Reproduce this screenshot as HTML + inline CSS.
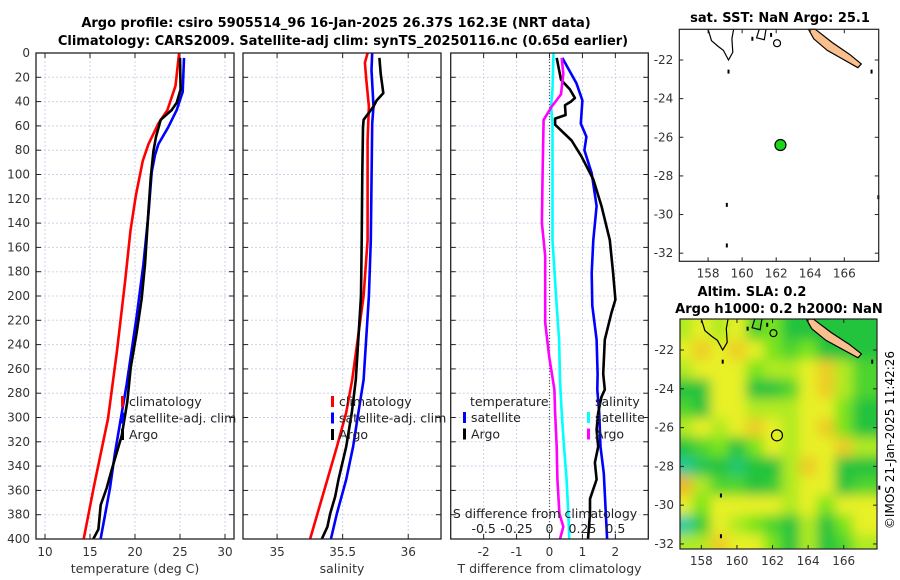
<!DOCTYPE html>
<html><head><meta charset="utf-8"><style>
body{margin:0;background:#fff}
svg{display:block;font-family:"DejaVu Sans","Liberation Sans",sans-serif}
</style></head><body>
<svg id="fig" width="900" height="580" viewBox="0 0 900 580" xmlns="http://www.w3.org/2000/svg">
<defs>
<filter id="blur" x="-5%" y="-5%" width="110%" height="110%"><feGaussianBlur stdDeviation="6"/></filter>
<clipPath id="mapclip"><rect x="680" y="319" width="197" height="230"/></clipPath>
</defs>
<text x="336" y="27" text-anchor="middle" font-size="13" font-weight="bold">Argo profile: csiro 5905514_96 16-Jan-2025 26.37S 162.3E (NRT data)</text>
<text x="343" y="45" text-anchor="middle" font-size="13" font-weight="bold">Climatology: CARS2009. Satellite-adj clim: synTS_20250116.nc (0.65d earlier)</text>
<text x="780" y="22" text-anchor="middle" font-size="13" font-weight="bold">sat. SST: NaN Argo: 25.1</text>
<text x="752" y="296" text-anchor="middle" font-size="13" font-weight="bold">Altim. SLA: 0.2</text>
<text x="779" y="313" text-anchor="middle" font-size="13" font-weight="bold">Argo h1000: 0.2 h2000: NaN</text>
<text transform="translate(894,440) rotate(-90)" text-anchor="middle" font-size="12">©IMOS 21-Jan-2025 11:42:26</text>
<g id="root"></g>
</svg>
<script>
// ---- data ----
const depthTicks=[0,20,40,60,80,100,120,140,160,180,200,220,240,260,280,300,320,340,360,380,400];
const tempTicks=[10,15,20,25,30];
const salTicks=[35,35.5,36];
const dtTicks=[-2,-1,0,1,2];
const dsTicks=[-0.5,-0.25,0,0.25,0.5];
const dsTickLabels=["-0.5","-0.25","0","0.25","0.5"];
const climTdepth=[0,27,47,58,75,89,117,146,188,245,301,358,400];
const climT=[24.9,24.5,23.6,22.6,21.5,20.85,20.1,19.5,18.9,18.0,17.0,15.4,14.3];
const satTdepth=[4,32,47,61,75,84,98,132,174,216,273,329,358,400];
const satT=[25.45,25.3,24.63,23.7,22.6,22.22,21.85,21.5,20.93,20.2,19.07,17.78,17.22,16.18];
const argoTdepth=[4,30,41,47,55,69,81,103,132,174,202,230,259,287,315,343,358,372,392,400];
const argoT=[25.0,25.07,24.63,24.07,22.85,22.33,22.04,21.74,21.48,21.11,20.74,20.19,19.52,19.15,18.52,17.41,16.85,16.19,15.93,15.37];
const climSdepth=[0,8,22,44,72,154,200,269,296,324,351,379,400];
const climS=[35.69,35.67,35.68,35.70,35.69,35.69,35.66,35.573,35.527,35.456,35.384,35.308,35.252];
const satSdepth=[0,14,44,58,154,200,269,296,324,351,379,400];
const satS=[35.725,35.72,35.735,35.725,35.715,35.7,35.66,35.62,35.58,35.527,35.456,35.41];
const argoSdepth=[4,17,33,39,44,55,61,99,154,200,269,296,324,351,365,379,390,400];
const argoS=[35.78,35.79,35.81,35.76,35.735,35.66,35.655,35.65,35.645,35.64,35.6,35.57,35.527,35.468,35.443,35.405,35.384,35.341];
const dTsatDepth=[4,25,39,58,69,80,99,126,154,181,208,236,264,277,296,324,346,400];
const dTsat=[0.39,0.82,1.0,0.95,1.12,1.06,1.28,1.43,1.33,1.28,1.3,1.43,1.46,1.45,1.51,1.55,1.65,1.75];
const dTargoDepth=[4,22,30,37,40,43,51,54,59,72,85,104,126,154,181,203,214,236,264,277,283,296,310,324,337,351,359,367,379,400];
const dTargo=[0.22,0.35,0.62,0.77,0.65,0.47,0.49,0.17,0.17,0.67,0.97,1.33,1.58,1.83,1.93,2.0,1.88,1.68,1.63,1.68,1.58,1.48,1.43,1.48,1.38,1.43,1.33,1.23,1.23,1.17];
const dSsatDepth=[0,30,44,58,99,154,208,236,269,296,324,351,379,400];
const dSsat=[0.03,0.0225,0.0125,0.0225,0.0225,0.0225,0.055,0.0725,0.08,0.0925,0.11,0.13,0.1425,0.15];
const dSargoDepth=[4,17,34,44,55,99,140,167,222,250,277,296,324,351,379,390,400];
const dSargo=[0.0925,0.105,0.0875,0.0175,-0.045,-0.0525,-0.0575,-0.0325,-0.0325,-0.0025,0.0375,0.0425,0.055,0.06,0.075,0.105,0.08];
const mapLatTicks=[-22,-24,-26,-28,-30,-32];
const mapLonTicks=[158,160,162,164,166];
const argoLon=162.25, argoLat=-26.4;
const slaLons=[157,158,159,160,161,162,163,164,165,166,167];
const slaLats=[-21,-22,-23,-24,-25,-26,-27,-28,-29,-30,-31,-32];
const slaGrid=[
[2.5,3,2.5,3,1.5,2,1,1,1,1,1],
[3,3.5,3,3.5,3,2,1.5,2,1,1,1],
[2.5,3,3,3,2,2.5,2.5,3,3.5,2.5,1.5],
[1,1,3,3,1,1,1.5,3,3.5,2.5,1.5],
[1.5,1,3,3,2.5,2.5,2.5,3,3,2,1],
[2.5,3,2.5,3,3.5,3,2.5,3,3.5,2,1],
[1,1.5,2,1,2,3,2.5,3,3,3.5,2.5],
[0.3,0.8,1,0.6,1,1,2.5,3.5,3,1,1],
[3.8,2.5,1.5,1.5,1,1.2,2.5,3,3,1,1.5],
[3,2,3,3,3,3,2.5,3,2,3,3],
[0.2,1.2,3,2.5,2,1.5,1,2.5,1,2,3],
[2.5,2.5,3.5,3,3,2,1,2.5,1,1.5,2.5]];
const coastA=[[158.0,-20.41],[158.2,-21.0],[158.6,-21.3],[158.9,-21.5],[159.2,-22.0],[159.45,-21.6],[159.4,-20.9],[159.5,-20.41]];
const coastB=[[161.0,-20.41],[160.85,-20.85],[161.3,-20.95],[161.4,-20.41]];
const newCal=[[163.9,-20.41],[164.3,-20.41],[165.3,-21.1],[166.3,-21.7],[167.0,-22.2],[166.8,-22.4],[166.0,-22.0],[165.0,-21.5],[164.2,-20.9]];
const dots=[[159.2,-22.6],[159.1,-29.5],[159.1,-31.6],[167.6,-22.6],[160.6,-20.9],[161.7,-20.7],[168,-29.1]];

// ---- drawing ----
const NS="http://www.w3.org/2000/svg";
const root=document.getElementById('root');
function mk(tag,attrs,parent){const e=document.createElementNS(NS,tag);for(const k in attrs)e.setAttribute(k,attrs[k]);(parent||root).appendChild(e);return e;}
const PY0=53,PY1=539;
function yD(d){return PY0+d/400*(PY1-PY0);}
function lin(d0,d1,r0,r1){return v=>r0+(v-d0)/(d1-d0)*(r1-r0);}

function panel(name,x0,x1,xs,xticks,xlabels,xtitle){
  const g=mk('g',{});
  
  
  xticks.forEach(t=>{const x=xs(t);mk('line',{x1:x,x2:x,y1:PY0,y2:PY1,stroke:'#cdd3ea','stroke-dasharray':'2,2','stroke-width':1},g);});
  depthTicks.forEach(t=>{const y=yD(t);mk('line',{x1:x0,x2:x1,y1:y,y2:y,stroke:'#cdd3ea','stroke-dasharray':'2,2','stroke-width':1},g);
    mk('line',{x1:x0,x2:x0+5,y1:y,y2:y,stroke:'#222'},g);mk('line',{x1:x1-5,x2:x1,y1:y,y2:y,stroke:'#222'},g);});
  xticks.forEach((t,i)=>{const x=xs(t);mk('line',{x1:x,x2:x,y1:PY1,y2:PY1-5,stroke:'#222'},g);mk('line',{x1:x,x2:x,y1:PY0,y2:PY0+5,stroke:'#222'},g);
    const tx=mk('text',{x:x,y:PY1+17,'text-anchor':'middle','font-size':12,fill:'#333'},g);tx.textContent=xlabels[i];
    
    });
  const tt=mk('text',{x:(x0+x1)/2,y:PY1+34,'text-anchor':'middle','font-size':12.5,fill:'#333'},g);tt.textContent=xtitle;
  
  
  return g;
}
function frame(g,x0,x1){mk('rect',{x:x0,y:PY0,width:x1-x0,height:PY1-PY0,fill:'none',stroke:'#222','stroke-width':1.3},g);}
function series(g,name,xs,vals,depths,color,w){
  const pts=vals.map((v,i)=>xs(v).toFixed(1)+','+yD(depths[i]).toFixed(1)).join(' ');
  const p=mk('polyline',{points:pts,fill:'none',stroke:color,'stroke-width':w||2.6,'stroke-linejoin':'round'},g);
  
  
}
function legend(g,x,y,items){
  items.forEach((it,i)=>{const yy=y+i*16.5;
    if(it[1]) mk('rect',{x:x,y:yy-10,width:3,height:11,fill:it[1]},g);
    const t=mk('text',{x:x+(it[1]?8:0),y:yy,'font-size':12.5,fill:'#222'},g);t.textContent=it[0];
    
    });
}
depthTicks.forEach(t=>{const tx=mk('text',{x:30,y:yD(t)+4,'text-anchor':'end','font-size':12,fill:'#333'});tx.textContent=t;
  
  });

const xT=lin(9,31,36,234);
const g1=panel('temperature-panel',36,234,xT,tempTicks,tempTicks.map(String),'temperature (deg C)');
series(g1,'temp-climatology-line',xT,climT,climTdepth,'#ff0000');
series(g1,'temp-satellite-line',xT,satT,satTdepth,'#0000ff');
series(g1,'temp-argo-line',xT,argoT,argoTdepth,'#000000');
frame(g1,36,234);
legend(g1,121,406,[['climatology','#ff0000'],['satellite-adj. clim','#0000ff'],['Argo','#000000']]);

const xS=lin(34.74,36.25,243,441);
const g2=panel('salinity-panel',243,441,xS,salTicks,['35','35.5','36'],'salinity');
series(g2,'sal-climatology-line',xS,climS,climSdepth,'#ff0000');
series(g2,'sal-satellite-line',xS,satS,satSdepth,'#0000ff');
series(g2,'sal-argo-line',xS,argoS,argoSdepth,'#000000');
frame(g2,243,441);
legend(g2,331,406,[['climatology','#ff0000'],['satellite-adj. clim','#0000ff'],['Argo','#000000']]);

const xD=lin(-3,3,450.7,648.3);
const xDS=v=>xD(v*4);
const g3=panel('difference-panel',450.7,648.3,xD,dtTicks,dtTicks.map(String),'T difference from climatology');
mk('line',{x1:xD(0),x2:xD(0),y1:PY0,y2:PY1,stroke:'#555','stroke-dasharray':'1,2','stroke-width':1.2},g3);
series(g3,'dT-satellite-line',xD,dTsat,dTsatDepth,'#0000ff');
series(g3,'dT-argo-line',xD,dTargo,dTargoDepth,'#000000');
series(g3,'dS-satellite-line',xDS,dSsat,dSsatDepth,'#00ffff');
series(g3,'dS-argo-line',xDS,dSargo,dSargoDepth,'#ff00ff');
frame(g3,450.7,648.3);
legend(g3,470,406,[['temperature',null]]);
legend(g3,463,422,[['satellite','#0000ff'],['Argo','#000000']]);
legend(g3,595,406,[['salinity',null]]);
legend(g3,587,422,[['satellite','#00ffff'],['Argo','#ff00ff']]);
dsTicks.forEach((t,i)=>{const tx=mk('text',{x:xDS(t),y:533,'text-anchor':'middle','font-size':12.5,fill:'#222'},g3);tx.textContent=dsTickLabels[i];
  
  });
const st=mk('text',{x:545,y:518,'text-anchor':'middle','font-size':12.5,fill:'#222'},g3);st.textContent='S difference from climatology';



function map(name,x0,x1,y0,y1,lon0,lon1,lat0,lat1,sla){
  const g=mk('g',{});
  
  
  const mx=lin(lon0,lon1,x0,x1), my=lin(lat0,lat1,y0,y1);
  if(sla){
    const cols=[[30,205,190],[35,195,60],[120,228,30],[232,240,40],[242,168,40]];
    function col(v){const i=Math.max(0,Math.min(3,Math.floor(v)));const f=Math.min(1,v-i);
      const A=cols[i],B=cols[i+1];return 'rgb('+A.map((c,k)=>Math.round(c+(B[k]-c)*f)).join(',')+')';}
    const cg=mk('g',{'clip-path':'url(#mapclip)'},g);
    const bg=mk('g',{filter:'url(#blur)'},cg);
    mk('rect',{x:x0-20,y:y0-20,width:x1-x0+40,height:y1-y0+40,fill:col(2.5)},bg);
    const nC=slaLons.length,nR=slaLats.length;
    slaLats.forEach((la,r)=>slaLons.forEach((lo,c)=>{
      const l0=lo-0.5-(c===0?1:0), l1=lo+0.5+(c===nC-1?1:0);
      const t0=la+0.5+(r===0?1:0), t1=la-0.5-(r===nR-1?1:0);
      const cell=mk('rect',{x:mx(l0),y:my(t0),width:mx(l1)-mx(l0)+0.5,height:my(t1)-my(t0)+0.5,fill:col(slaGrid[r][c])},bg);
      
      
    }));
  }
  const pth=pts=>pts.map(p=>mx(p[0]).toFixed(1)+','+my(p[1]).toFixed(1)).join(' ');
  mk('polyline',{points:pth(coastA),fill:'none',stroke:'#000','stroke-width':1.2},g);
  mk('polyline',{points:pth(coastB),fill:'none',stroke:'#000','stroke-width':1.2},g);
  mk('circle',{cx:mx(162.05),cy:my(-21.13),r:3.5,fill:'none',stroke:'#000','stroke-width':1.2},g);
  mk('polygon',{points:pth(newCal),fill:'#f9c08e',stroke:'#000','stroke-width':1.2},g);
  dots.forEach(d=>mk('rect',{x:mx(d[0])-1,y:my(d[1])-2,width:2,height:4,fill:'#000'},g));
  const pt=mk('circle',{cx:mx(argoLon),cy:my(argoLat),r:5.5,fill:sla?'none':'#18d818',stroke:'#000','stroke-width':1.2},g);
  
  
  mk('rect',{x:x0,y:y0,width:x1-x0,height:y1-y0,fill:'none',stroke:'#222','stroke-width':1.2},g);
  mapLatTicks.forEach(t=>{const y=my(t);mk('line',{x1:x0,x2:x0+4,y1:y,y2:y,stroke:'#222'},g);mk('line',{x1:x1-4,x2:x1,y1:y,y2:y,stroke:'#222'},g);
    const tx=mk('text',{x:x0-6,y:y+4,'text-anchor':'end','font-size':12,fill:'#333'},g);tx.textContent=t;
    
    });
  mapLonTicks.forEach(t=>{const x=mx(t);mk('line',{x1:x,x2:x,y1:y1,y2:y1-4,stroke:'#222'},g);mk('line',{x1:x,x2:x,y1:y0,y2:y0+4,stroke:'#222'},g);
    const tx=mk('text',{x:x,y:y1+16,'text-anchor':'middle','font-size':12,fill:'#333'},g);tx.textContent=t;
    
    });
}
map('sst-map',679.3,878.7,29.3,261.3,156.31,168.02,-20.41,-32.42,false);
map('sla-map',680,877,319,549,156.8,167.87,-20.4,-32.26,true);
</script>
</body></html>
